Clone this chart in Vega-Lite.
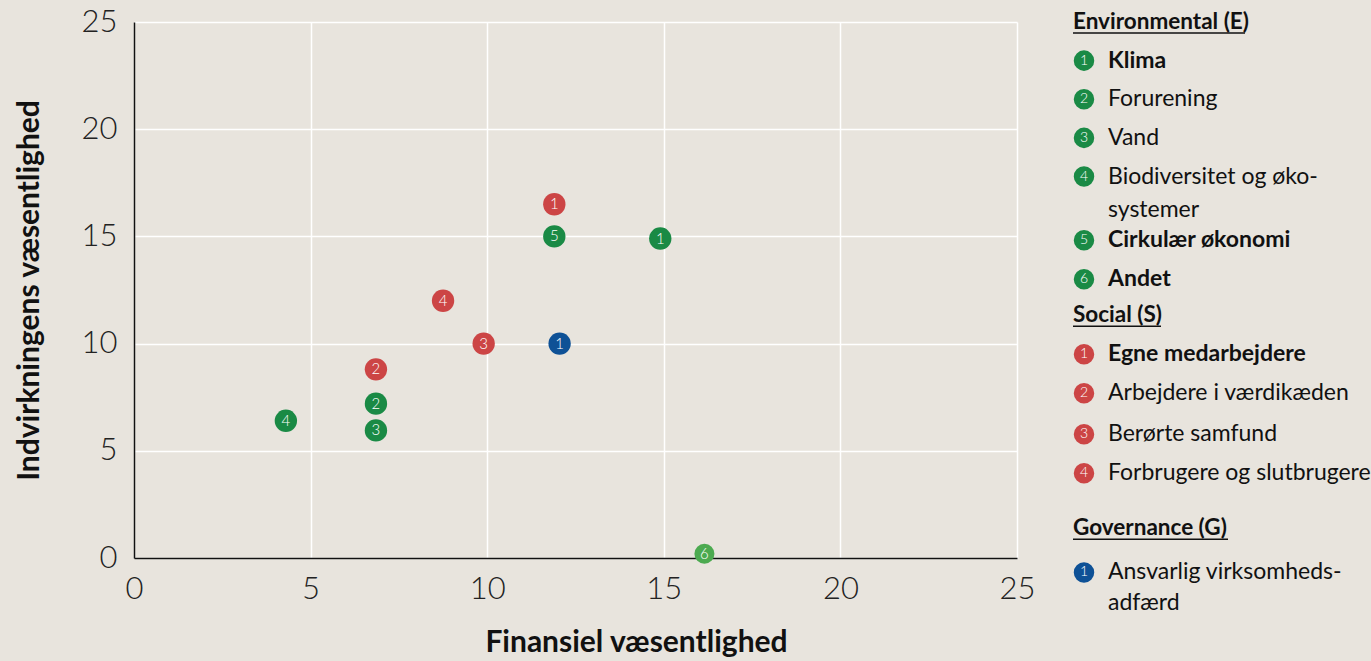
{
  "$schema": "https://vega.github.io/schema/vega-lite/v6.json",
  "background": "#e8e4dd",
  "padding": {"top": 6, "left": 14, "right": 0, "bottom": 4},
  "config": {
    "font": "Lato",
    "view": {"stroke": null},
    "concat": {"spacing": 37}
  },
  "datasets": {
    "points": [
      {"pillar": "E", "num": "1", "topic": "Klima", "financial": 14.9, "impact": 14.9},
      {"pillar": "E", "num": "2", "topic": "Forurening", "financial": 6.85, "impact": 7.2},
      {"pillar": "E", "num": "3", "topic": "Vand", "financial": 6.85, "impact": 5.95},
      {"pillar": "E", "num": "4", "topic": "Biodiversitet og økosystemer", "financial": 4.3, "impact": 6.4},
      {"pillar": "E", "num": "5", "topic": "Cirkulær økonomi", "financial": 11.9, "impact": 15.0},
      {"pillar": "E", "num": "6", "topic": "Andet", "financial": 16.15, "impact": 0.2},
      {"pillar": "S", "num": "1", "topic": "Egne medarbejdere", "financial": 11.9, "impact": 16.5},
      {"pillar": "S", "num": "2", "topic": "Arbejdere i værdikæden", "financial": 6.85, "impact": 8.8},
      {"pillar": "S", "num": "3", "topic": "Berørte samfund", "financial": 9.9, "impact": 10.0},
      {"pillar": "S", "num": "4", "topic": "Forbrugere og slutbrugere", "financial": 8.75, "impact": 12.0},
      {"pillar": "G", "num": "1", "topic": "Ansvarlig virksomhedsadfærd", "financial": 12.05, "impact": 10.0}
    ],
    "legend": [
      {"kind": "heading", "pillar": "E", "label": "Environmental (E)", "row": 0},
      {"kind": "item", "pillar": "E", "num": "1", "label": "Klima", "row": 1, "bold": true},
      {"kind": "item", "pillar": "E", "num": "2", "label": "Forurening", "row": 2, "bold": false},
      {"kind": "item", "pillar": "E", "num": "3", "label": "Vand", "row": 3, "bold": false},
      {"kind": "item", "pillar": "E", "num": "4", "label": "Biodiversitet og øko-", "row": 4, "bold": false},
      {"kind": "cont", "pillar": "E", "label": "systemer", "row": 4.87, "bold": false},
      {"kind": "item", "pillar": "E", "num": "5", "label": "Cirkulær økonomi", "row": 5.65, "bold": true},
      {"kind": "item", "pillar": "E", "num": "6", "label": "Andet", "row": 6.66, "bold": true},
      {"kind": "heading", "pillar": "S", "label": "Social (S)", "row": 7.59},
      {"kind": "item", "pillar": "S", "num": "1", "label": "Egne medarbejdere", "row": 8.6, "bold": true},
      {"kind": "item", "pillar": "S", "num": "2", "label": "Arbejdere i værdikæden", "row": 9.61, "bold": false},
      {"kind": "item", "pillar": "S", "num": "3", "label": "Berørte samfund", "row": 10.67, "bold": false},
      {"kind": "item", "pillar": "S", "num": "4", "label": "Forbrugere og slutbrugere", "row": 11.68, "bold": false},
      {"kind": "heading", "pillar": "G", "label": "Governance (G)", "row": 13.11},
      {"kind": "item", "pillar": "G", "num": "1", "label": "Ansvarlig virksomheds-", "row": 14.25, "bold": false},
      {"kind": "cont", "pillar": "G", "label": "adfærd", "row": 15.03, "bold": false}
    ]
  },
  "hconcat": [
    {
      "width": 883,
      "height": 536,
      "data": {"name": "points"},
      "encoding": {
        "x": {
          "field": "financial", "type": "quantitative",
          "scale": {"domain": [0, 25], "nice": false},
          "axis": {
            "values": [0, 5, 10, 15, 20, 25],
            "title": "Finansiel væsentlighed",
            "titleFontSize": 30, "titleFontWeight": "bold", "titleColor": "#111",
            "titlePadding": 23, "titleX": 502,
            "labelFontSize": 31, "labelFontWeight": 300, "labelColor": "#222",
            "labelPadding": 16, "labelFlush": false, "ticks": false,
            "domainColor": "#111", "domainWidth": 1.5,
            "grid": true, "gridColor": "#ffffff", "gridWidth": 1.5
          }
        },
        "y": {
          "field": "impact", "type": "quantitative",
          "scale": {"domain": [0, 25], "nice": false},
          "axis": {
            "values": [0, 5, 10, 15, 20, 25],
            "title": "Indvirkningens væsentlighed",
            "titleFontSize": 30, "titleFontWeight": "bold", "titleColor": "#111",
            "titlePadding": 37,
            "labelFontSize": 31, "labelFontWeight": 300, "labelColor": "#222",
            "labelPadding": 17, "labelFlush": false, "ticks": false,
            "domainColor": "#111", "domainWidth": 1.5,
            "grid": true, "gridColor": "#ffffff", "gridWidth": 1.5
          }
        }
      },
      "layer": [
        {
          "mark": {"type": "circle", "opacity": 1},
          "encoding": {
            "color": {
              "condition": {"test": "datum.pillar == 'E' && datum.num == '6'", "value": "#4caa50"},
              "field": "pillar", "type": "nominal",
              "scale": {"domain": ["E", "S", "G"], "range": ["#1a8a45", "#cc4545", "#0e5196"]},
              "legend": null
            },
            "size": {
              "condition": {"test": "datum.pillar == 'E' && datum.num == '6'", "value": 400},
              "value": 500
            }
          }
        },
        {
          "mark": {"type": "text", "color": "#ffffff", "fontSize": 15, "fontWeight": 300, "baseline": "middle", "align": "center"},
          "encoding": {"text": {"field": "num"}}
        }
      ]
    },
    {
      "width": 300,
      "height": 618,
      "data": {"name": "legend"},
      "encoding": {
        "y": {"field": "row", "type": "quantitative", "scale": {"domain": [0, 16], "reverse": true, "nice": false}, "axis": null}
      },
      "layer": [
        {
          "transform": [{"filter": "datum.kind == 'item'"}],
          "mark": {"type": "circle", "opacity": 1, "size": 420},
          "encoding": {
            "x": {"value": 11},
            "color": {
              "field": "pillar", "type": "nominal",
              "scale": {"domain": ["E", "S", "G"], "range": ["#4caa50", "#cc4545", "#0e5196"]},
              "legend": null
            }
          }
        },
        {
          "transform": [{"filter": "datum.kind == 'item'"}],
          "mark": {"type": "text", "color": "#ffffff", "fontSize": 14, "fontWeight": 300, "align": "center", "baseline": "middle"},
          "encoding": {"x": {"value": 11}, "text": {"field": "num"}}
        },
        {
          "transform": [{"filter": "datum.kind == 'heading' && datum.pillar == 'E'"}],
          "mark": {"type": "rule", "color": "#111", "strokeWidth": 1.5, "yOffset": 11},
          "encoding": {"x": {"value": 0}, "x2": {"value": 172}}
        },
        {
          "transform": [{"filter": "datum.kind == 'heading' && datum.pillar == 'S'"}],
          "mark": {"type": "rule", "color": "#111", "strokeWidth": 1.5, "yOffset": 11},
          "encoding": {"x": {"value": 0}, "x2": {"value": 88}}
        },
        {
          "transform": [{"filter": "datum.kind == 'heading' && datum.pillar == 'G'"}],
          "mark": {"type": "rule", "color": "#111", "strokeWidth": 1.5, "yOffset": 11},
          "encoding": {"x": {"value": 0}, "x2": {"value": 155}}
        },
        {
          "transform": [{"filter": "datum.kind == 'heading'"}],
          "mark": {"type": "text", "color": "#111", "fontSize": 22.5, "fontWeight": "bold", "align": "left", "baseline": "middle"},
          "encoding": {"x": {"value": 0}, "text": {"field": "label"}}
        },
        {
          "transform": [{"filter": "datum.kind != 'heading' && datum.bold"}],
          "mark": {"type": "text", "color": "#111", "fontSize": 23, "fontWeight": "bold", "align": "left", "baseline": "middle"},
          "encoding": {"x": {"value": 35}, "text": {"field": "label"}}
        },
        {
          "transform": [{"filter": "datum.kind != 'heading' && !datum.bold"}],
          "mark": {"type": "text", "color": "#111", "fontSize": 23, "fontWeight": "normal", "align": "left", "baseline": "middle"},
          "encoding": {"x": {"value": 35}, "text": {"field": "label"}}
        }
      ]
    }
  ]
}
